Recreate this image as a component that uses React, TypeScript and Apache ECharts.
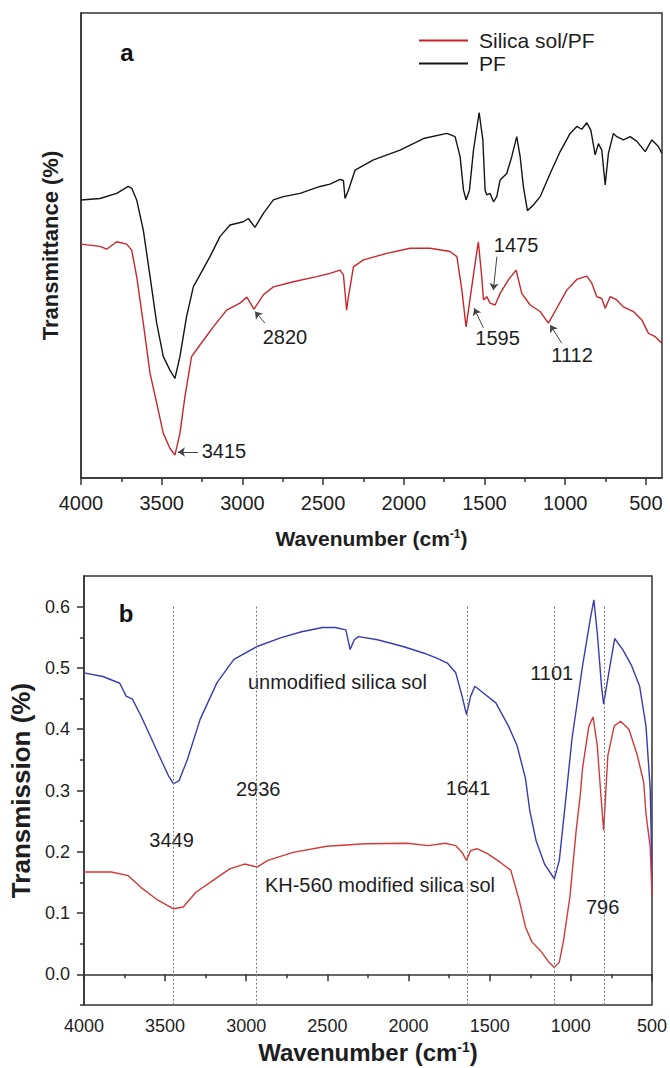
import React, { useEffect, useRef } from "react";
import * as echarts from "echarts";

const FONT = "'Liberation Sans', Arial, Helvetica, sans-serif";

// ---------- Panel a : PF vs Silica sol/PF ----------
const pfWavenumber = [4000, 3882, 3779, 3707, 3686, 3655, 3614, 3572, 3531, 3490, 3449, 3418, 3387, 3346, 3304, 3263, 3201, 3139, 3077, 2994, 2963, 2922, 2870, 2808, 2746, 2643, 2519, 2457, 2395, 2374, 2364, 2343, 2302, 2188, 2023, 1878, 1733, 1682, 1651, 1630, 1614, 1593, 1568, 1533, 1510, 1496, 1486, 1465, 1444, 1424, 1403, 1362, 1331, 1300, 1279, 1259, 1234, 1197, 1155, 1093, 1031, 969, 928, 897, 866, 841, 814, 794, 773, 752, 732, 701, 680, 639, 597, 556, 504, 463, 422, 401];
const pfTransmittance = [59.8, 60.1, 61.2, 62.7, 62.3, 59.8, 53.3, 43.3, 33.3, 26.1, 23.2, 21.4, 26.1, 34.7, 41.1, 43.7, 47.6, 51.9, 54.4, 55.1, 55.8, 53.9, 56.9, 59.8, 60.5, 61.2, 62.7, 63.2, 64.2, 64.0, 60.1, 61.9, 66.2, 68.4, 70.5, 73.0, 74.1, 73.4, 69.1, 61.9, 59.8, 61.9, 70.5, 78.6, 72.7, 61.9, 60.9, 61.2, 59.4, 60.5, 64.1, 65.5, 69.1, 73.4, 69.1, 62.7, 57.5, 58.7, 60.5, 65.5, 70.2, 74.1, 75.6, 75.0, 76.4, 74.8, 69.5, 71.9, 70.5, 63.0, 69.8, 74.1, 73.4, 72.7, 73.4, 72.4, 70.2, 72.7, 71.3, 69.8];

const silicaPfWavenumber = [4000, 3882, 3841, 3779, 3717, 3686, 3655, 3614, 3572, 3531, 3490, 3449, 3418, 3387, 3356, 3315, 3263, 3180, 3098, 3015, 2973, 2928, 2870, 2808, 2684, 2540, 2457, 2395, 2374, 2354, 2343, 2333, 2312, 2250, 2105, 1961, 1837, 1713, 1671, 1640, 1614, 1593, 1564, 1538, 1517, 1506, 1486, 1465, 1434, 1403, 1352, 1304, 1269, 1217, 1155, 1104, 1052, 990, 928, 866, 835, 804, 773, 752, 721, 680, 639, 577, 525, 484, 442, 401];
const silicaPfTransmittance = [50.3, 49.8, 49.2, 50.8, 50.3, 49.0, 43.3, 33.3, 22.5, 16.1, 9.6, 6.4, 4.9, 9.6, 17.5, 26.1, 28.6, 32.5, 36.1, 37.6, 38.9, 36.3, 39.4, 41.1, 42.2, 43.3, 44.0, 44.7, 43.7, 36.1, 39.0, 41.0, 45.4, 46.9, 48.3, 49.4, 49.4, 48.7, 47.6, 40.4, 32.5, 37.6, 44.7, 50.8, 43.3, 38.3, 39.0, 37.6, 37.2, 39.7, 42.6, 44.7, 39.7, 37.2, 35.8, 33.3, 36.5, 40.4, 42.7, 43.4, 41.9, 39.0, 38.6, 36.5, 39.0, 38.3, 36.8, 35.8, 34.0, 31.1, 30.4, 29.0];

const topMajorTicks = [4000, 3500, 3000, 2500, 2000, 1500, 1000, 500];
const topMinorTicks = [3750, 3250, 2750, 2250, 1750, 1250, 750];

// peak labels of panel a: text, label position, arrow start, arrow end (data coords)
const topPeakText = ["3415", "2820", "1595", "1475", "1112"];
const topPeakLabelAt = [[3114, 5.7], [2736, 30.3], [1419, 30.1], [1304, 50.1], [957, 26.5]];
const topArrowFrom = [[3275, 5.6], [2860, 33.3], [1507, 32.3], [1423, 47.6], [1021, 29.0]];
const topArrowTo = [[3399, 5.6], [2922, 35.8], [1564, 36.5], [1445, 40.4], [1093, 32.9]];

// ---------- Panel b : silica sol ----------
const unmodWavenumber = [4000, 3883, 3779, 3740, 3701, 3649, 3583, 3518, 3479, 3448, 3414, 3362, 3284, 3180, 3076, 2933, 2789, 2659, 2529, 2451, 2386, 2360, 2334, 2308, 2191, 2034, 1904, 1826, 1761, 1709, 1670, 1643, 1617, 1591, 1539, 1462, 1384, 1331, 1279, 1253, 1214, 1162, 1102, 1071, 1032, 993, 928, 880, 858, 837, 811, 798, 780, 759, 730, 680, 628, 576, 537, 511, 503, 500];
const unmodTransmission = [0.492, 0.486, 0.475, 0.454, 0.449, 0.422, 0.384, 0.346, 0.324, 0.311, 0.316, 0.351, 0.416, 0.476, 0.514, 0.535, 0.549, 0.559, 0.566, 0.566, 0.562, 0.530, 0.546, 0.551, 0.546, 0.535, 0.524, 0.516, 0.508, 0.492, 0.454, 0.424, 0.454, 0.470, 0.459, 0.443, 0.405, 0.373, 0.319, 0.267, 0.218, 0.180, 0.156, 0.186, 0.284, 0.384, 0.503, 0.580, 0.611, 0.557, 0.470, 0.441, 0.470, 0.503, 0.548, 0.530, 0.505, 0.470, 0.405, 0.303, 0.200, 0.140];

const kh560Wavenumber = [4000, 3831, 3727, 3649, 3544, 3448, 3388, 3310, 3206, 3102, 3011, 2933, 2867, 2711, 2503, 2269, 2008, 1878, 1774, 1709, 1670, 1643, 1617, 1579, 1514, 1436, 1370, 1318, 1279, 1240, 1188, 1136, 1102, 1071, 1045, 1006, 967, 941, 928, 889, 863, 837, 816, 798, 785, 772, 733, 694, 642, 590, 551, 537, 511, 500];
const kh560Transmission = [0.167, 0.167, 0.161, 0.142, 0.121, 0.107, 0.110, 0.134, 0.153, 0.172, 0.180, 0.175, 0.186, 0.199, 0.209, 0.213, 0.214, 0.210, 0.214, 0.210, 0.199, 0.186, 0.202, 0.205, 0.197, 0.183, 0.170, 0.121, 0.077, 0.053, 0.039, 0.020, 0.011, 0.020, 0.055, 0.126, 0.235, 0.295, 0.336, 0.405, 0.420, 0.373, 0.297, 0.235, 0.295, 0.357, 0.405, 0.413, 0.400, 0.357, 0.313, 0.262, 0.208, 0.130];

const bottomYMajor = [0, 0.1, 0.2, 0.3, 0.4, 0.5, 0.6];
const bottomYMinor = [-0.05, 0.05, 0.15, 0.25, 0.35, 0.45, 0.55];
const markedPeaks = [3449, 2936, 1641, 1101, 796];
const markedPeakText = ["3449", "2936", "1641", "1101", "796"];
const markedPeakLabelAt = [[3460, 0.22], [2926, 0.302], [1633, 0.304], [1118, 0.491], [804, 0.11]];
const curveNames = ["unmodified silica sol", "KH-560 modified silica sol"];
const curveNameAt = [[2438, 0.477], [2176, 0.145]];

const pairs = (xs: number[], ys: number[]) => xs.map((x, i) => [x, ys[i]]);

const TEXT = "#1e1e1e";
const AXIS = "#333";

export default function App() {
  const ref = useRef<HTMLDivElement>(null);

  useEffect(() => {
    if (!ref.current) return;
    const chart = echarts.init(ref.current, undefined, { renderer: "svg" });

    const axisLineStyle = { color: AXIS, width: 1.5 };
    const supRich = (size: number) => ({
      sup: { fontSize: size, fontWeight: "bold", fontFamily: FONT, color: TEXT, verticalAlign: "top" },
    });
    const plain = (v: number) => String(v);

    const hiddenDot = { color: "rgba(0,0,0,0)", opacity: 1 };

    const option: any = {
      animation: false,
      backgroundColor: "#fff",
      textStyle: { fontFamily: FONT, color: TEXT },
      grid: [
        { left: 81, top: 13, width: 581, height: 465, show: true, borderColor: AXIS, borderWidth: 1.5, backgroundColor: "transparent" },
        { left: 79, top: 576, width: 574, height: 429, show: true, borderColor: AXIS, borderWidth: 1.5, backgroundColor: "transparent" },
      ],
      legend: {
        data: ["Silica sol/PF", "PF"],
        orient: "vertical",
        left: 414,
        top: 25,
        icon: "rect",
        itemWidth: 49,
        itemHeight: 2,
        itemGap: 2,
        textStyle: { fontSize: 21, color: TEXT, fontFamily: FONT, padding: [0, 0, 0, 6] },
      },
      xAxis: [
        {
          gridIndex: 0, type: "value", min: 400, max: 4000, inverse: true,
          axisLine: { show: true, lineStyle: axisLineStyle },
          axisTick: { show: true, inside: false, length: 7, customValues: topMajorTicks, lineStyle: axisLineStyle },
          axisLabel: { customValues: topMajorTicks, fontSize: 20, color: TEXT, margin: 15, fontFamily: FONT, formatter: plain },
          splitLine: { show: false },
          name: "Wavenumber (cm{sup|-1})",
          nameLocation: "middle",
          nameGap: 50,
          nameTextStyle: { fontSize: 21, fontWeight: "bold", color: TEXT, fontFamily: FONT, rich: supRich(12) },
        },
        {
          gridIndex: 0, type: "value", min: 400, max: 4000, inverse: true, position: "bottom",
          axisLine: { show: false },
          axisTick: { show: true, inside: false, length: 4, customValues: topMinorTicks, lineStyle: axisLineStyle },
          axisLabel: { show: false },
          splitLine: { show: false },
        },
        {
          gridIndex: 1, type: "value", min: 500, max: 4000, interval: 500, inverse: true,
          axisLine: { show: true, lineStyle: axisLineStyle },
          axisTick: { show: true, inside: false, length: 7, lineStyle: axisLineStyle },
          minorTick: { show: true, splitNumber: 2, length: 4, lineStyle: axisLineStyle },
          axisLabel: { fontSize: 18, color: TEXT, margin: 12, fontFamily: FONT, formatter: plain },
          splitLine: { show: false },
          name: "Wavenumber (cm{sup|-1})",
          nameLocation: "middle",
          nameGap: 35,
          nameTextStyle: { fontSize: 24, fontWeight: "bold", color: TEXT, fontFamily: FONT, rich: supRich(14) },
        },
      ],
      yAxis: [
        {
          gridIndex: 0, type: "value", min: 0, max: 100,
          axisLine: { show: true, lineStyle: axisLineStyle },
          axisTick: { show: false },
          axisLabel: { show: false },
          splitLine: { show: false },
          name: "Transmittance (%)",
          nameLocation: "middle",
          nameGap: 20,
          nameTextStyle: { fontSize: 22, fontWeight: "bold", color: TEXT, fontFamily: FONT },
        },
        {
          gridIndex: 1, type: "value", min: -0.05, max: 0.65,
          axisLine: { show: true, lineStyle: axisLineStyle },
          axisTick: { show: true, inside: false, length: 7, customValues: bottomYMajor, lineStyle: axisLineStyle },
          axisLabel: { customValues: bottomYMajor, fontSize: 18, color: TEXT, margin: 14, fontFamily: FONT, formatter: (v: number) => v.toFixed(1) },
          splitLine: { show: false },
          name: "Transmission (%)",
          nameLocation: "middle",
          nameGap: 40,
          nameTextStyle: { fontSize: 26, fontWeight: "bold", color: TEXT, fontFamily: FONT },
        },
        {
          gridIndex: 1, type: "value", min: -0.05, max: 0.65, position: "left",
          axisLine: { show: false },
          axisTick: { show: true, inside: false, length: 4, customValues: bottomYMinor, lineStyle: axisLineStyle },
          axisLabel: { show: false },
          splitLine: { show: false },
        },
      ],
      series: [
        {
          name: "Silica sol/PF", type: "line", xAxisIndex: 0, yAxisIndex: 0,
          data: pairs(silicaPfWavenumber, silicaPfTransmittance),
          showSymbol: false, symbol: "none",
          lineStyle: { color: "#c8262c", width: 1.4 },
          itemStyle: { color: "#c8262c" },
          markLine: {
            silent: true,
            symbol: ["none", "arrow"],
            symbolSize: 7,
            label: { show: false },
            lineStyle: { color: "#444", width: 1, type: "solid" },
            data: topArrowFrom.map((from, i) => [{ coord: from }, { coord: topArrowTo[i] }]),
          },
        },
        {
          name: "PF", type: "line", xAxisIndex: 0, yAxisIndex: 0,
          data: pairs(pfWavenumber, pfTransmittance),
          showSymbol: false, symbol: "none",
          lineStyle: { color: "#151515", width: 1.4 },
          itemStyle: { color: "#151515" },
        },
        {
          name: "unmodified silica sol", type: "line", xAxisIndex: 2, yAxisIndex: 1,
          data: pairs(unmodWavenumber, unmodTransmission),
          showSymbol: false, symbol: "none",
          lineStyle: { color: "#3a3ab0", width: 1.4 },
          itemStyle: { color: "#3a3ab0" },
          markLine: {
            silent: true,
            symbol: ["none", "none"],
            label: { show: false },
            lineStyle: { color: "#777", width: 1, type: [2, 2] },
            data: markedPeaks.map((wn) => [{ coord: [wn, 0.6] }, { coord: [wn, -0.05] }]),
          },
        },
        {
          name: "KH-560 modified silica sol", type: "line", xAxisIndex: 2, yAxisIndex: 1,
          data: pairs(kh560Wavenumber, kh560Transmission),
          showSymbol: false, symbol: "none",
          lineStyle: { color: "#d03a3a", width: 1.4 },
          itemStyle: { color: "#d03a3a" },
        },
        {
          name: "labels-a", type: "scatter", xAxisIndex: 0, yAxisIndex: 0, silent: true,
          symbolSize: 1, itemStyle: hiddenDot,
          label: { show: true, position: "inside", formatter: "{b}", fontSize: 20, color: TEXT, fontFamily: FONT },
          data: [
            ...topPeakText.map((t, i) => ({ name: t, value: topPeakLabelAt[i] })),
            { name: "a", value: [3715, 91.6], label: { fontSize: 24, fontWeight: "bold", color: "#111" } },
          ],
        },
        {
          name: "labels-b", type: "scatter", xAxisIndex: 2, yAxisIndex: 1, silent: true,
          symbolSize: 1, itemStyle: hiddenDot,
          label: { show: true, position: "inside", formatter: "{b}", fontSize: 20, color: TEXT, fontFamily: FONT },
          data: [
            ...markedPeakText.map((t, i) => ({ name: t, value: markedPeakLabelAt[i] })),
            ...curveNames.map((t, i) => ({ name: t, value: curveNameAt[i] })),
            { name: "b", value: [3740, 0.589], label: { fontSize: 24, fontWeight: "bold", color: "#111" } },
          ],
        },
      ],
    };

    chart.setOption(option);
    return () => chart.dispose();
  }, []);

  return (
    <div
      ref={ref}
      style={{ position: "absolute", left: 0, top: 0, width: 670, height: 1068, background: "#fff" }}
    />
  );
}
